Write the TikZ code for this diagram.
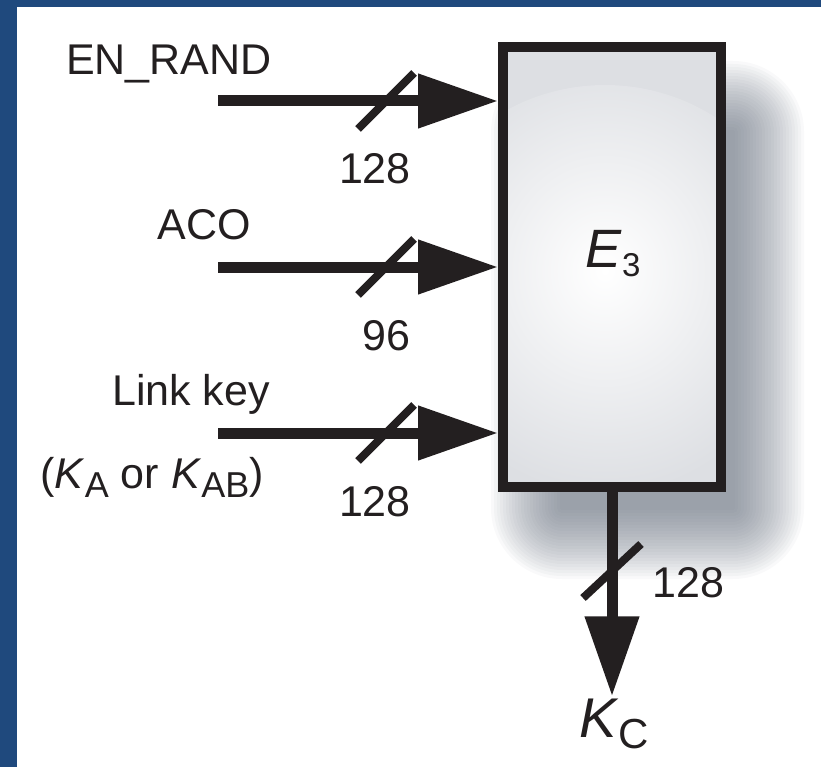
\documentclass[tikz,border=0pt]{standalone}
\usepackage{fontspec}
\setmainfont{Liberation Sans}
\usetikzlibrary{arrows.meta,calc}
\definecolor{framebl}{HTML}{1F497D}
\definecolor{inkblk}{HTML}{231F20}
\definecolor{boxgray}{HTML}{DDDFE3}
\definecolor{shadowgray}{HTML}{5C6675}
\newcommand{\lowsub}[1]{\raisebox{-0.22em}{\fontsize{36}{36}\selectfont #1}}
\tikzset{
  bus/.style={draw=inkblk, line width=11pt, -{Triangle[length=80pt,width=52pt]}},
  slash/.style={draw=inkblk, line width=8pt},
  lbl/.style={text=inkblk, font=\fontsize{43}{48}\selectfont, inner sep=2pt},
}

\begin{document}
\begin{tikzpicture}[x=1pt,y=-1pt]
    \useasboundingbox (0,0) rectangle (821,767);
    % blue frame, top and left only
    \fill[framebl] (0,0) rectangle (821,7);
    \fill[framebl] (0,0) rectangle (17,767);

    % soft shadow behind the block
    \foreach \i in {0,...,23}
    {
        \pgfmathsetmacro{\rr}{3*\i+2}
        \fill[shadowgray, opacity=0.04, rounded corners=\rr pt] (560-3*\i, 130-3*\i) rectangle (735+3*\i, 510+3*\i);
    }

    % block E3
    \node (e3box) [draw=inkblk, line width=10pt, fill=boxgray, minimum width=218pt, minimum height=440pt, inner sep=0pt,
        path picture={\shade[inner color=white, outer color=boxgray] ($(path picture bounding box.center)+(-7,23)$) circle (205pt);}] at (612,267) {};
    \node (e3lbl) [text=inkblk, font=\fontsize{54}{60}\selectfont, inner sep=2pt, anchor=base] at (613,267)
        {\textit{E}\raisebox{-9pt}{\fontsize{33}{33}\selectfont 3}};

    % input labels
    \node (enrandlbl) [lbl, anchor=base] at (169,75) {EN\_RAND};
    \node (acolbl) [lbl, anchor=base] at (204,240) {ACO};
    \node (linklbl) [lbl, anchor=base] at (191,405) {Link key};
    \node (kablbl) [lbl, anchor=base] at (152,488) {(\textit{K}\lowsub{A} or \textit{K}\lowsub{AB})};

    % input buses with widths
    \foreach \nm/\yy/\bw in {enrand/101/128, aco/267/96, link/433/128}
    {
        \coordinate (\nm in) at (218,\yy);
        \coordinate (\nm sl) at (386,\yy);
        \draw[bus] (\nm in) -- (e3box.west |- \nm in);
        \draw[slash] ($(\nm sl)+(-28,28)$) -- ($(\nm sl)+(28,-28)$);
        \node (\nm bw) [lbl, anchor=base east] at ($(\nm sl)+(27,83)$) {\bw};
    }

    % output bus
    \node (kc) [text=inkblk, font=\fontsize{56}{60}\selectfont, inner sep=2pt, anchor=base] at (614,737) {\textit{K}\raisebox{-0.2em}{\fontsize{42}{42}\selectfont C}};
    \draw[bus] (e3box.south) -- (e3box.south |- kc.north);
    \coordinate (kcsl) at (612,571);
    \draw[slash] ($(kcsl)+(-29,27)$) -- ($(kcsl)+(29,-27)$);
    \node (kcbw) [lbl, anchor=base west] at (650,597) {128};
\end{tikzpicture}
\end{document}
